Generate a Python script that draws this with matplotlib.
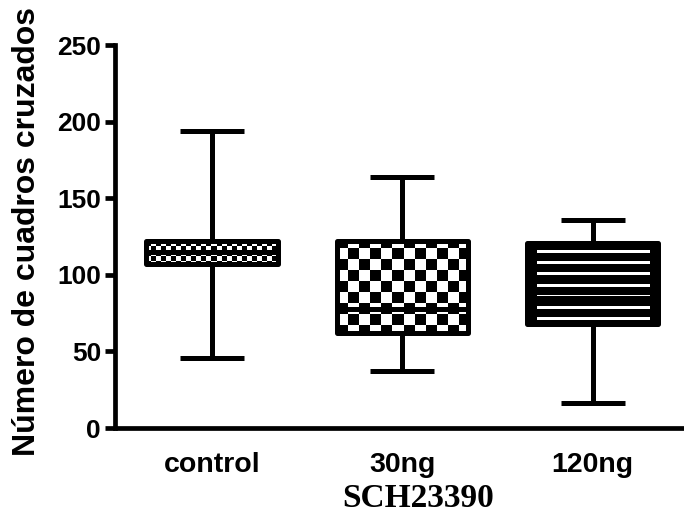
import numpy as np
import matplotlib
matplotlib.use("Agg")
import matplotlib.pyplot as plt

categories = ["control", "30ng", "120ng"]
whislo = [46, 37, 16]
q1 = [107, 62, 68]
med = [115, 78, 85]
q3 = [122, 122, 121]
whishi = [194, 164, 136]
yticks = [0, 50, 100, 150, 200, 250]
ylabel = "Número de cuadros cruzados"
xlabel = "SCH23390"

fig = plt.figure(figsize=(6.84, 5.21), dpi=100)
ax = fig.add_axes([0.168, 0.1785, 0.832, 0.7351])
ax.set_xlim(-0.51, 2.48)
ax.set_ylim(0, 250)

stats = []
for i in range(3):
    stats.append(dict(label=categories[i], whislo=whislo[i], q1=q1[i], med=med[i],
                      q3=q3[i], whishi=whishi[i], fliers=[]))

lw = 3.6
bp = ax.bxp(stats, positions=[0, 1, 2], widths=0.69, capwidths=0.337,
            patch_artist=True, showfliers=False,
            boxprops=dict(facecolor="none", edgecolor="black", linewidth=lw, joinstyle="round", zorder=4),
            whiskerprops=dict(color="black", linewidth=lw, solid_capstyle="butt"),
            capprops=dict(color="black", linewidth=lw, solid_capstyle="butt"),
            medianprops=dict(color="black", linewidth=lw, solid_capstyle="butt", zorder=5))

fig.canvas.draw()

def pattern(kind, nx, ny):
    iy, ix = np.mgrid[0:ny, 0:nx]
    if kind == 0:
        return (((ix // 5) + (iy // 5)) % 2).astype(float)
    if kind == 1:
        return (((ix // 11) + ((iy + 4) // 11)) % 2).astype(float)
    img = np.zeros((ny, nx))
    stripe = ((iy + 3) % 11) < 3
    inside = (ix > 9) & (ix < nx - 9)
    img[stripe & inside] = 1.0
    return img

for i, patch in enumerate(bp["boxes"]):
    x0, x1 = i - 0.345, i + 0.345
    p0 = ax.transData.transform((x0, q1[i]))
    p1 = ax.transData.transform((x1, q3[i]))
    nx = int(round(p1[0] - p0[0]))
    ny = int(round(p1[1] - p0[1]))
    img = pattern(i, nx, ny)
    im = ax.imshow(img, cmap="gray", vmin=0, vmax=1, extent=(x0, x1, q1[i], q3[i]),
                   origin="upper", interpolation="nearest", aspect="auto", zorder=3)
    im.set_clip_path(patch)

ax.set_xlim(-0.51, 2.48)
ax.set_ylim(0, 250)

for s in ["top", "right"]:
    ax.spines[s].set_visible(False)
for s in ["left", "bottom"]:
    ax.spines[s].set_linewidth(3.4)
ax.spines["bottom"].set_capstyle("butt")

ax.set_yticks(yticks)
ax.set_yticklabels([str(v) for v in yticks])
ax.tick_params(axis="y", length=7, width=3.4, direction="out", pad=3, labelsize=19)
ax.tick_params(axis="x", length=0, pad=17, labelsize=20.5)
ax.set_xticks([0, 1, 2])
ax.set_xticklabels(categories)
for lab in ax.get_xticklabels() + ax.get_yticklabels():
    lab.set_fontfamily("Liberation Sans")
    lab.set_fontweight("bold")

fig.text(0.04, 0.556, ylabel, rotation=90, ha="center", va="center",
         fontfamily="Liberation Sans", fontweight="bold", fontsize=23)
fig.text(0.611, 0.044, xlabel, ha="center", va="center",
         fontfamily="Liberation Serif", fontweight="bold", fontsize=24)

fig.savefig("out.png", dpi=100)
